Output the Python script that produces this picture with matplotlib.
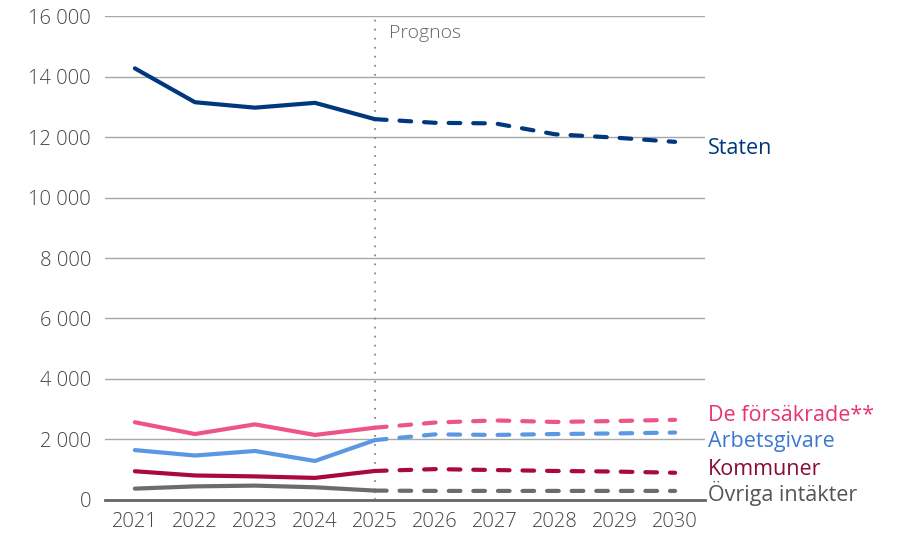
import matplotlib
matplotlib.use("Agg")
import matplotlib.pyplot as plt
from matplotlib.ticker import FuncFormatter

plt.rcParams['font.family'] = ['Open Sans', 'DejaVu Sans']
plt.rcParams['font.weight'] = 'light'

years = [2021, 2022, 2023, 2024, 2025, 2026, 2027, 2028, 2029, 2030]
forecast_start = 2025

staten = [14270, 13150, 12970, 13130, 12590, 12470, 12450, 12090, 11980, 11840]
forsakrade = [2570, 2180, 2500, 2150, 2390, 2560, 2630, 2580, 2610, 2650]
arbetsgivare = [1650, 1470, 1620, 1290, 1980, 2170, 2150, 2180, 2200, 2230]
kommuner = [950, 810, 780, 730, 960, 1020, 990, 960, 940, 900]
ovriga = [375, 450, 475, 420, 310, 300, 300, 300, 300, 300]

series = [
    ("Staten", staten, "#00387f", "#00387f"),
    ("De försäkrade**", forsakrade, "#ee5587", "#e8336e"),
    ("Arbetsgivare", arbetsgivare, "#5a98e4", "#3a78d2"),
    ("Kommuner", kommuner, "#a90840", "#8a0a38"),
    ("Övriga intäkter", ovriga, "#6c6c6c", "#555555"),
]
label_y = {"Staten": 11620, "De försäkrade**": 2780, "Arbetsgivare": 1940,
           "Kommuner": 1000, "Övriga intäkter": 210}

fig = plt.figure(figsize=(9.04, 5.34), dpi=100)
ax = fig.add_axes([0.116, 0.0637, 0.664, 0.9063])

ax.set_xlim(2020.5, 2030.5)
ax.set_ylim(0, 16000)
ax.set_yticks(range(0, 16001, 2000))
ax.set_xticks(years)
ax.yaxis.set_major_formatter(FuncFormatter(lambda v, p: f"{int(v):,}".replace(",", " ")))
ax.grid(axis="y", color="#a8a8a8", lw=1.0)
ax.set_axisbelow(True)
for s in ["left", "right", "top"]:
    ax.spines[s].set_visible(False)
ax.spines["bottom"].set_color("#666666")
ax.spines["bottom"].set_linewidth(2.0)
ax.tick_params(axis="both", length=0, labelsize=14.5, colors="#444444")
ax.tick_params(axis="y", pad=10)
ax.tick_params(axis="x", pad=9)

ax.axvline(forecast_start, color="#888888", lw=1.3, ls=(0, (1, 4)), zorder=1)
ax.text(2025.23, 15440, "Prognos", fontsize=14, color="#666666", va="center", ha="left")

i0 = years.index(forecast_start)
for name, vals, col, tcol in series:
    ax.plot(years[:i0 + 1], vals[:i0 + 1], color=col, lw=3.0,
            solid_capstyle="round", solid_joinstyle="round", zorder=3)
    ax.plot(years[i0:], vals[i0:], color=col, lw=3.0, dashes=(2.8, 3.1),
            dash_capstyle="round", zorder=3)
    ax.text(2030.55, label_y[name], name, color=tcol, fontsize=15.5,
            fontweight="normal", va="center", ha="left", clip_on=False)

fig.savefig("out.png", dpi=100)
